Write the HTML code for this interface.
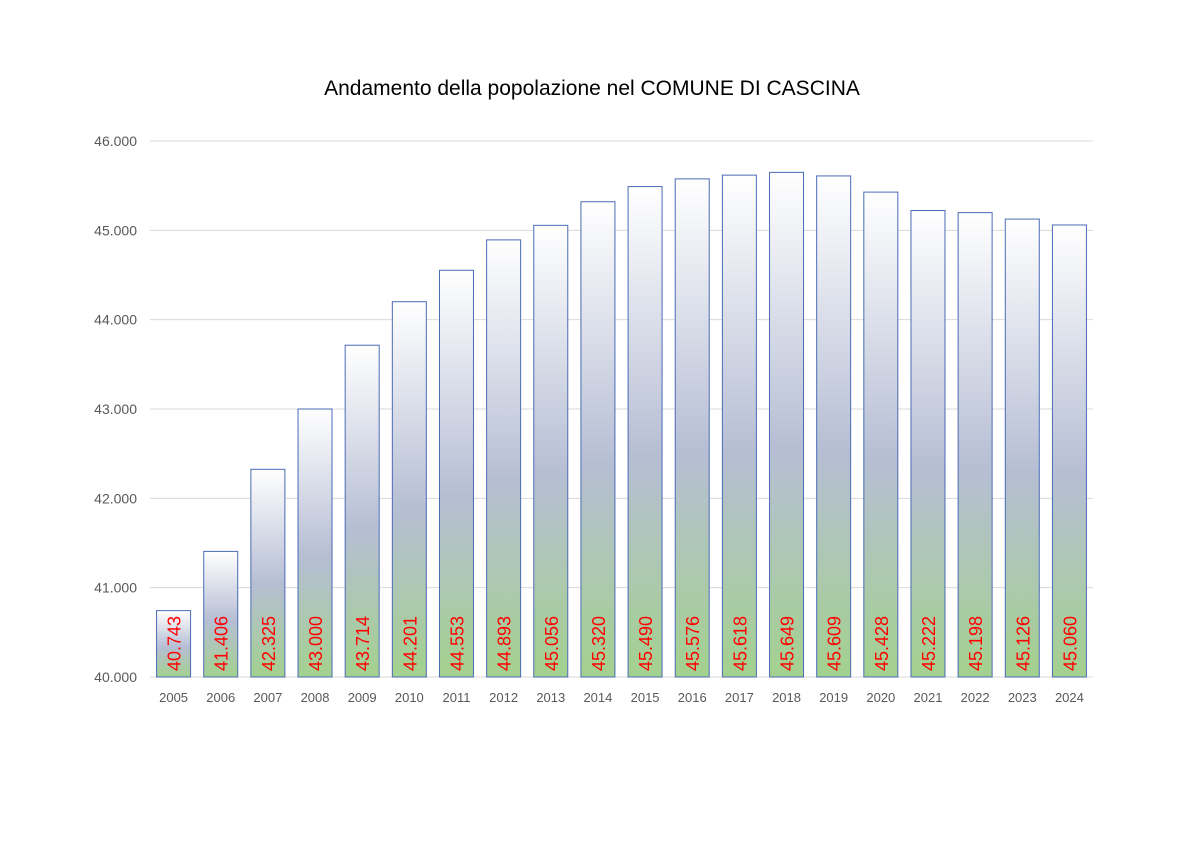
<!DOCTYPE html>
<html><head><meta charset="utf-8"><style>
html,body{margin:0;padding:0;background:#fff;}
svg{display:block;font-family:"Liberation Sans",sans-serif;}
</style></head><body>
<svg id="chart" width="1200" height="843">
<defs>
<linearGradient id="barGrad" x1="0" y1="0" x2="0" y2="1">
<stop offset="0" stop-color="#ffffff"/>
<stop offset="0.55" stop-color="#b6bed4"/>
<stop offset="1" stop-color="#a3d18e"/>
</linearGradient>
</defs>
<text x="592" y="95" text-anchor="middle" font-size="21" fill="#000">Andamento della popolazione nel COMUNE DI CASCINA</text>
<g id="grid"></g><g id="bars"></g><g id="labels"></g>
</svg>
<script>
const years=["2005","2006","2007","2008","2009","2010","2011","2012","2013","2014","2015","2016","2017","2018","2019","2020","2021","2022","2023","2024"];
const population=[40743,41406,42325,43000,43714,44201,44553,44893,45056,45320,45490,45576,45618,45649,45609,45428,45222,45198,45126,45060];
const valueLabels=["40.743","41.406","42.325","43.000","43.714","44.201","44.553","44.893","45.056","45.320","45.490","45.576","45.618","45.649","45.609","45.428","45.222","45.198","45.126","45.060"];
const yTicks=[40000,41000,42000,43000,44000,45000,46000];
const yTickLabels=["40.000","41.000","42.000","43.000","44.000","45.000","46.000"];
const NS="http://www.w3.org/2000/svg";
const plotL=150,plotR=1093,yMin=40000,yMax=46000,py0=677,py1=141;
function y(v){return py0-(v-yMin)/(yMax-yMin)*(py0-py1);}
const step=(plotR-plotL)/years.length;
function x(i){return plotL+step*(i+0.5);}
const bw=34;
function mk(tag,attrs,parent){const e=document.createElementNS(NS,tag);for(const k in attrs)e.setAttribute(k,attrs[k]);document.getElementById(parent).appendChild(e);return e;}
yTicks.forEach((t,i)=>{
  const l=mk('line',{x1:plotL,x2:plotR,y1:y(t),y2:y(t),stroke:'#d9d9d9','stroke-width':1},'grid');
  
  
  const tx=mk('text',{x:137,y:y(t)+5,'text-anchor':'end','font-size':14,fill:'#595959'},'grid');
  tx.textContent=yTickLabels[i];
  
  
});
years.forEach((yr,i)=>{
  const cx=x(i);
  const r=mk('rect',{x:cx-bw/2,y:y(population[i]),width:bw,height:py0-y(population[i]),fill:'url(#barGrad)',stroke:'#4a6bb5','stroke-width':1},'bars');
  
  
  const v=mk('text',{x:0,y:0,transform:`translate(${cx+7},${py0-6}) rotate(-90)`,'font-size':18,fill:'#ff0000'},'labels');
  v.textContent=valueLabels[i];
  
  
  const t=mk('text',{x:cx,y:702,'text-anchor':'middle','font-size':13,fill:'#595959'},'labels');
  t.textContent=yr;
  
  
});
</script>
</body></html>
